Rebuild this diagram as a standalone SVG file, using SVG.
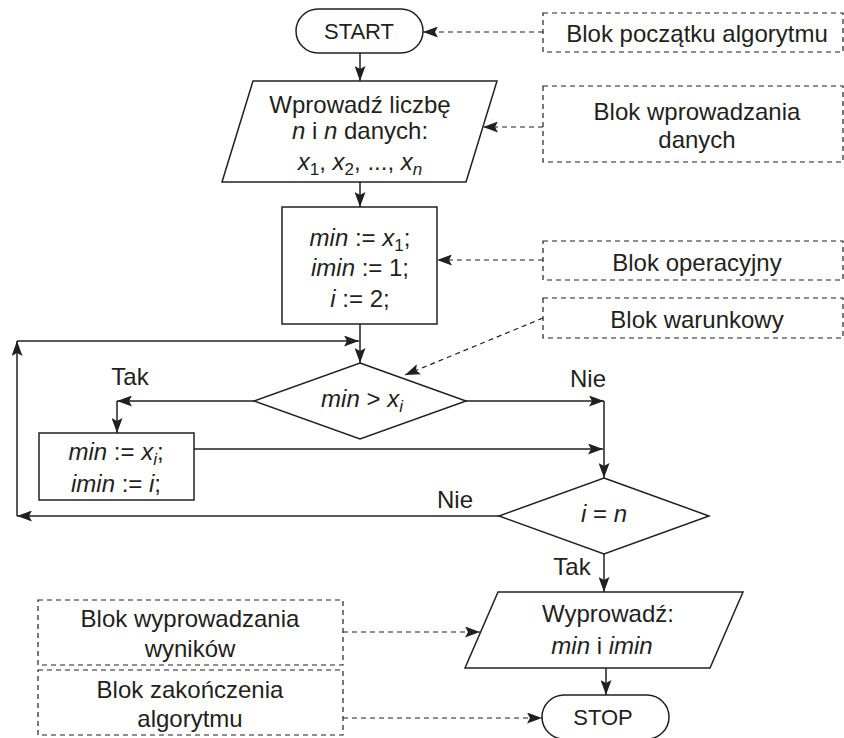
<svg xmlns="http://www.w3.org/2000/svg" width="844" height="738" viewBox="0 0 844 738">
<style>
text{font-family:"Liberation Sans",Arial,sans-serif;font-size:24px;fill:#231f20;text-anchor:middle}
.it{font-style:italic}
.sub{font-size:17px}
.term{font-size:22px}
.shape{fill:#fff;stroke:#231f20;stroke-width:1.5}
.note{fill:none;stroke:#231f20;stroke-width:1.2;stroke-dasharray:5 4}
.line{fill:none;stroke:#231f20;stroke-width:1.5;marker-end:url(#ah)}
.dline{fill:none;stroke:#231f20;stroke-width:1.2;stroke-dasharray:5 4;marker-end:url(#ah)}
</style>
<defs>
<marker id="ah" viewBox="0 0 15 11" refX="15" refY="5.5" markerWidth="15" markerHeight="11" markerUnits="userSpaceOnUse" orient="auto">
<path d="M0,0 L15,5.5 L0,11 L3,5.5 z" fill="#231f20"/>
</marker>
</defs>
<rect width="844" height="738" fill="#fff"/>
<g id="connectors">
<line class="line" x1="360" y1="53" x2="360" y2="81"/>
<line class="line" x1="360" y1="182" x2="360" y2="207"/>
<line class="line" x1="360" y1="324" x2="360" y2="363"/>
<line class="line" x1="17" y1="341" x2="359" y2="341"/>
<line class="line" x1="254" y1="401" x2="117" y2="401"/>
<line class="line" x1="117" y1="401" x2="117" y2="433"/>
<line class="line" x1="466" y1="401" x2="604" y2="401"/>
<line class="line" x1="604" y1="401" x2="604" y2="478"/>
<line class="line" x1="194" y1="449" x2="603" y2="449"/>
<line class="line" x1="499" y1="516" x2="17" y2="516"/>
<line class="line" x1="17" y1="516" x2="17" y2="341"/>
<line class="line" x1="604" y1="554" x2="604" y2="592"/>
<line class="line" x1="606" y1="668" x2="606" y2="695"/>
<line class="dline" x1="543" y1="32" x2="423" y2="32"/>
<line class="dline" x1="543" y1="127" x2="483" y2="127"/>
<line class="dline" x1="543" y1="260" x2="437" y2="260"/>
<line class="dline" x1="543" y1="318" x2="405" y2="375"/>
<line class="dline" x1="343" y1="632" x2="480" y2="632"/>
<line class="dline" x1="343" y1="718" x2="542" y2="718"/>
<text x="130" y="385">Tak</text>
<text x="588" y="387">Nie</text>
<text x="455" y="508">Nie</text>
<text x="572" y="575">Tak</text>
</g>
<g id="start">
<rect class="shape" x="296" y="9" width="127" height="44" rx="22"/>
<text class="term" x="359" y="39">START</text>
</g>
<g id="input">
<polygon class="shape" points="253,81 497,81 466,182 222,182"/>
<text x="360" y="113">Wprowadź liczbę</text>
<text x="360" y="139"><tspan class="it">n</tspan> i <tspan class="it">n</tspan> danych:</text>
<text x="360" y="170"><tspan class="it">x</tspan><tspan class="sub" dy="5">1</tspan><tspan dy="-5">, </tspan><tspan class="it">x</tspan><tspan class="sub" dy="5">2</tspan><tspan dy="-5">, ..., </tspan><tspan class="it">x</tspan><tspan class="sub it" dy="5">n</tspan></text>
</g>
<g id="init">
<rect class="shape" x="282" y="207" width="155" height="117"/>
<text x="360" y="246"><tspan class="it">min</tspan> := <tspan class="it">x</tspan><tspan class="sub" dy="5">1</tspan><tspan dy="-5">;</tspan></text>
<text x="360" y="276"><tspan class="it">imin</tspan> := 1;</text>
<text x="360" y="307"><tspan class="it">i</tspan> := 2;</text>
</g>
<g id="cond1">
<polygon class="shape" points="360,363 466,401 360,439 254,401"/>
<text x="362" y="407"><tspan class="it">min</tspan> &gt; <tspan class="it">x</tspan><tspan class="sub it" dy="5">i</tspan></text>
</g>
<g id="update">
<rect class="shape" x="39" y="433" width="155" height="67"/>
<text x="116" y="460"><tspan class="it">min</tspan> := <tspan class="it">x</tspan><tspan class="sub it" dy="5">i</tspan><tspan dy="-5">;</tspan></text>
<text x="116" y="492"><tspan class="it">imin</tspan> := <tspan class="it">i</tspan>;</text>
</g>
<g id="cond2">
<polygon class="shape" points="604,478 709,516 604,554 499,516"/>
<text x="604" y="522"><tspan class="it">i</tspan> = <tspan class="it">n</tspan></text>
</g>
<g id="output">
<polygon class="shape" points="498,592 743,592 710,668 465,668"/>
<text x="608" y="622">Wyprowadź:</text>
<text x="602" y="654"><tspan class="it">min</tspan> i <tspan class="it">imin</tspan></text>
</g>
<g id="stop">
<rect class="shape" x="542" y="695" width="127" height="44" rx="22"/>
<text class="term" x="603" y="725">STOP</text>
</g>
<g id="note-start">
<rect class="note" x="543" y="13" width="300" height="39"/>
<text x="697" y="42">Blok początku algorytmu</text>
</g>
<g id="note-input">
<rect class="note" x="543" y="86" width="300" height="76"/>
<text x="697" y="120">Blok wprowadzania</text>
<text x="697" y="148">danych</text>
</g>
<g id="note-op">
<rect class="note" x="543" y="241" width="300" height="39"/>
<text x="697" y="271">Blok operacyjny</text>
</g>
<g id="note-cond">
<rect class="note" x="543" y="298" width="300" height="40"/>
<text x="697" y="328">Blok warunkowy</text>
</g>
<g id="note-output">
<rect class="note" x="38" y="600" width="305" height="65"/>
<text x="190" y="627">Blok wyprowadzania</text>
<text x="190" y="657">wyników</text>
</g>
<g id="note-stop">
<rect class="note" x="38" y="670" width="305" height="65"/>
<text x="190" y="698">Blok zakończenia</text>
<text x="190" y="727">algorytmu</text>
</g>
</svg>
